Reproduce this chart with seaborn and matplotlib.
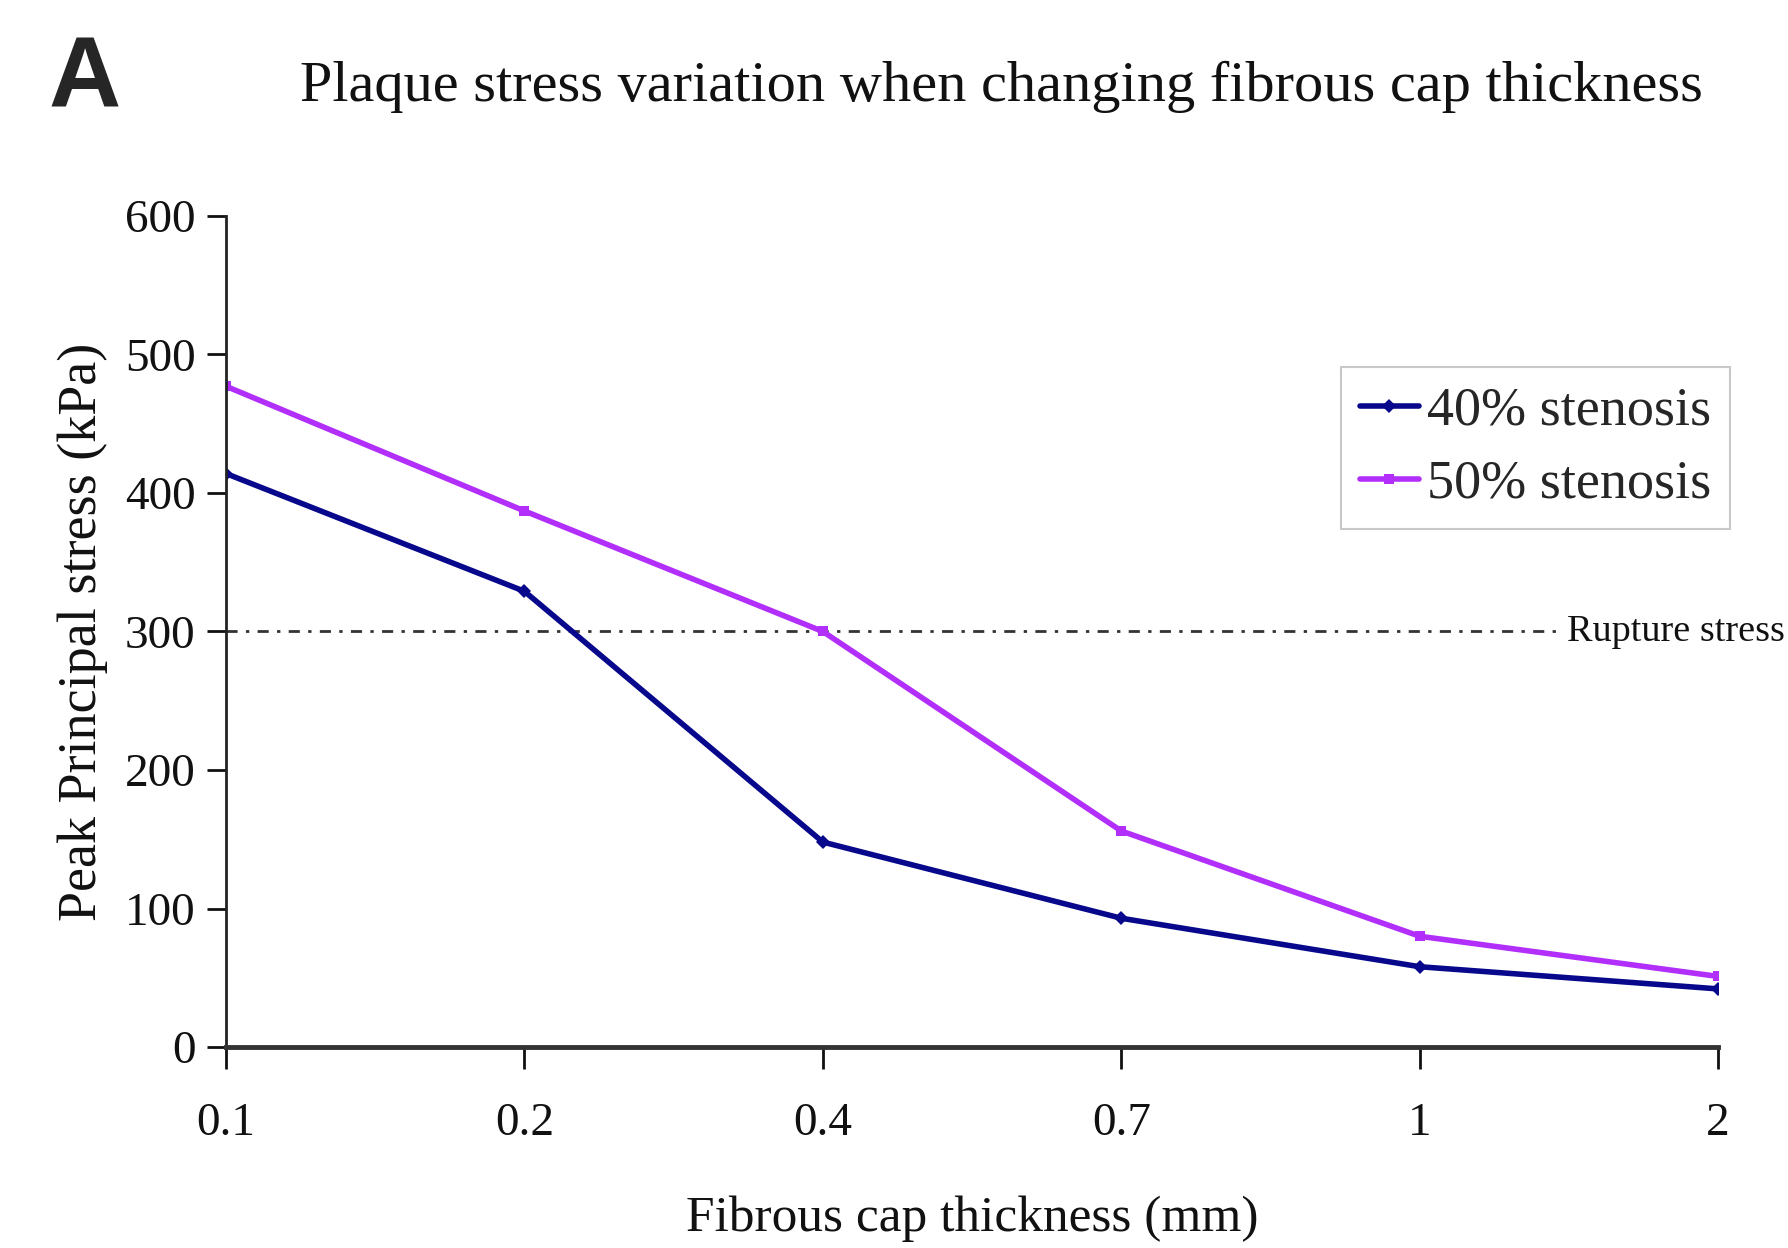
import matplotlib
matplotlib.use("Agg")
import matplotlib.pyplot as plt
import seaborn as sns
import pandas as pd

# ---- data ----
thickness_labels = ["0.1", "0.2", "0.4", "0.7", "1", "2"]
stress_40 = [414, 329, 148, 93, 58, 42]
stress_50 = [477, 387, 300, 156, 80, 51]
series_names = ["40% stenosis", "50% stenosis"]
rupture_stress = 300

df = pd.DataFrame({
    "thickness": thickness_labels * 2,
    "stress": stress_40 + stress_50,
    "series": [series_names[0]] * len(stress_40) + [series_names[1]] * len(stress_50),
})

sns.set_theme(style="ticks")
plt.rcParams["font.family"] = ["Liberation Serif", "DejaVu Serif"]
plt.rcParams["axes.unicode_minus"] = False

fig = plt.figure(figsize=(17.88, 12.48), dpi=100)
ax = fig.add_axes([0.1264, 0.161, 0.8345, 0.666])

palette = {series_names[0]: "#08088C", series_names[1]: "#B22EFA"}
markers = {series_names[0]: "D", series_names[1]: "s"}
sns.lineplot(data=df, x="thickness", y="stress", hue="series", style="series",
             markers=markers, dashes=False, palette=palette, linewidth=4,
             markersize=7, markeredgewidth=0, sort=False, ax=ax)

ax.set_xlim(0, len(thickness_labels) - 1)
ax.set_ylim(0, 600)
ax.set_yticks([0, 100, 200, 300, 400, 500, 600])
ax.set_xticks(range(len(thickness_labels)))
ax.set_xticklabels(thickness_labels)

# rupture stress line
ax.plot([0, 4.46], [rupture_stress, rupture_stress], color="#333333",
        linestyle=(0, (4, 3, 1.2, 3)), linewidth=2, zorder=1)
ax.text(4.495, rupture_stress, "Rupture stress", fontsize=27.5, va="center",
        ha="left", color="#111111", clip_on=False)

for s in ["top", "right"]:
    ax.spines[s].set_visible(False)
ax.spines["left"].set_linewidth(2)
ax.spines["bottom"].set_linewidth(3.5)
ax.spines["left"].set_color("#222222")
ax.spines["bottom"].set_color("#333333")
ax.tick_params(axis="y", direction="out", length=14, width=2, labelsize=34, pad=8, colors="#111111")
ax.tick_params(axis="x", direction="out", length=16, width=2, labelsize=34, pad=24, colors="#111111")

ax.set_xlabel("Fibrous cap thickness (mm)", fontsize=37, labelpad=36, color="#111111")
ax.set_ylabel("Peak Principal stress (kPa)", fontsize=39, labelpad=12, color="#111111")

handles, labels = ax.get_legend_handles_labels()
leg = ax.legend(handles, labels, loc="upper left", bbox_to_anchor=(0.747, 0.818),
                fontsize=39, frameon=True, fancybox=False, edgecolor="#BBBBBB",
                handlelength=1.1, handletextpad=0.15, borderpad=0.35,
                labelspacing=0.42, borderaxespad=0)
leg.get_frame().set_linewidth(1.5)

fig.text(0.56, 0.93, "Plaque stress variation when changing fibrous cap thickness",
         fontsize=42, ha="center", va="center", color="#111111")
fig.text(0.027, 0.935, "A", fontsize=72, fontweight="bold", ha="left", va="center",
         family=["Liberation Sans Narrow", "Liberation Sans", "DejaVu Sans"])

fig.savefig("out.png", dpi=100)
